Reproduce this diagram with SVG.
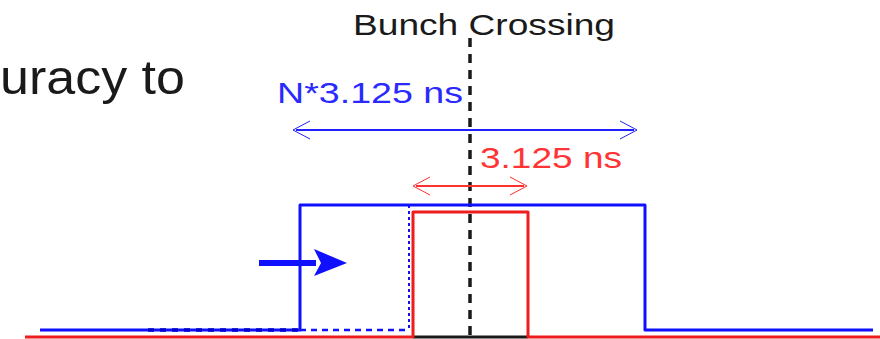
<svg xmlns="http://www.w3.org/2000/svg" width="880" height="339" viewBox="0 0 880 339">
<style>
text{font-family:"Liberation Sans",Arial,sans-serif;}
.lbl{font-size:30px;}
.blue{stroke:#1010ff;fill:none;}
.red{stroke:#ee1c1c;fill:none;}
.dimb{stroke:#2020ff;fill:none;}
.dimr{stroke:#ff3030;fill:none;}
</style>
<rect width="880" height="339" fill="#fff"/>
<g id="title-fragment">
<text x="0" y="94" font-size="48" fill="#1a1a1a" textLength="185" lengthAdjust="spacingAndGlyphs">uracy to</text>
</g>
<g id="bunch-crossing">
<text class="lbl" x="353" y="35" fill="#1a1a1a" textLength="262" lengthAdjust="spacingAndGlyphs">Bunch Crossing</text>
<line x1="470" y1="38" x2="470" y2="338" stroke="#1a1a1a" stroke-width="3.5" stroke-dasharray="9 7"/>
</g>
<g id="label-n">
<text class="lbl" x="277" y="103" fill="#2a2aff" textLength="186" lengthAdjust="spacingAndGlyphs">N*3.125 ns</text>
</g>
<g id="label-3125">
<text class="lbl" x="480" y="168" fill="#ff3535" textLength="142" lengthAdjust="spacingAndGlyphs">3.125 ns</text>
</g>
<g id="connectors">
<line x1="296" y1="130" x2="634" y2="130" class="dimb" stroke-width="2"/>
<path d="M310,121 L293,130 L310,139 M620,121 L637,130 L620,139" class="dimb" stroke-width="1"/>
<line x1="416" y1="186" x2="524" y2="186" class="dimr" stroke-width="2"/>
<path d="M430,177 L413,186 L430,195 M510,177 L527,186 L510,195" class="dimr" stroke-width="1"/>
<line x1="413" y1="337" x2="528" y2="337" stroke="#1a1a1a" stroke-width="3"/>
</g>
<g id="blue-pulse">
<path d="M40,330 H300 V205 H645 V330 H873" class="blue" stroke-width="3" stroke-linejoin="round"/>
<line x1="148" y1="330" x2="300" y2="330" stroke="#0000d0" stroke-width="3.5" stroke-dasharray="6 6"/>
<line x1="300" y1="330" x2="409" y2="330" class="blue" stroke-width="2.5" stroke-dasharray="6 5"/>
<line x1="409" y1="205" x2="409" y2="330" class="blue" stroke-width="2" stroke-dasharray="3 3"/>
</g>
<g id="red-pulse">
<path d="M25,337 H413 V212 H528 V337 H880" class="red" stroke-width="3" stroke-linejoin="round"/>
</g>
<g id="shift-arrow">
<line x1="259" y1="263" x2="316" y2="263" stroke="#1010ff" stroke-width="6"/>
<path d="M314,249 L347,263 L314,276 L321,263 Z" fill="#1010ff"/>
</g>
</svg>
